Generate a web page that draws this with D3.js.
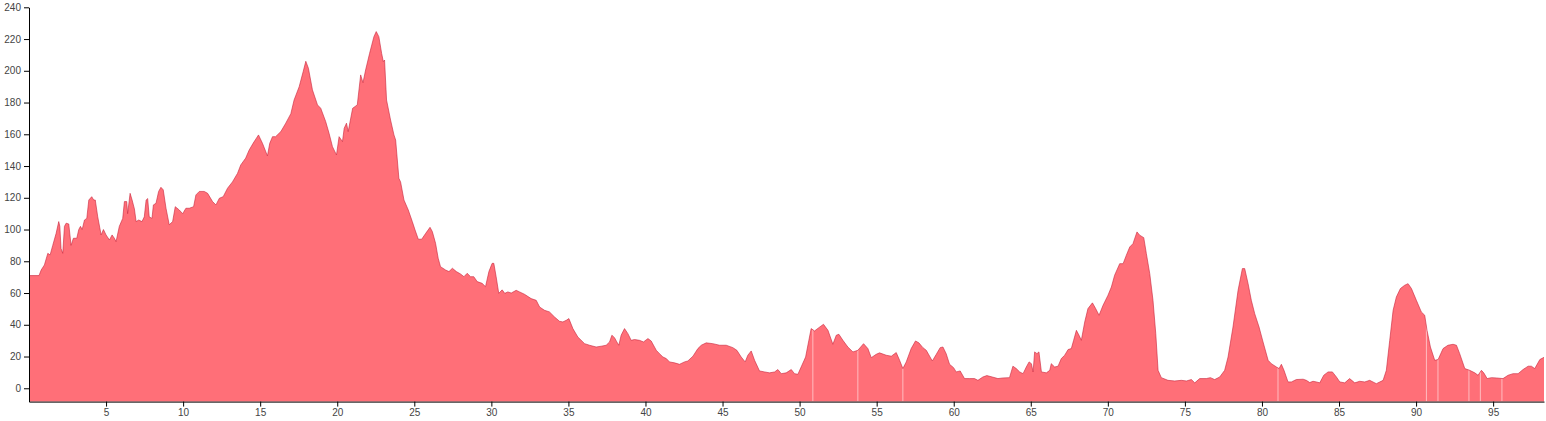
<!DOCTYPE html>
<html><head><meta charset="utf-8">
<script src="https://cdn.jsdelivr.net/npm/d3@7"></script>
<style>body{margin:0;background:#fff}svg{display:block}text{font-family:"Liberation Sans",Arial,sans-serif}</style>
</head><body>
<svg id="c" width="1546" height="421"></svg>
<script>
const distance = [0,0.65,0.79,1.0,1.22,1.37,1.54,1.76,1.93,2.0,2.08,2.19,2.3,2.41,2.58,2.73,2.88,3.1,3.23,3.34,3.45,3.6,3.75,3.88,4.07,4.2,4.3,4.46,4.68,4.83,5.0,5.22,5.39,5.54,5.65,5.86,6.08,6.19,6.34,6.4,6.56,6.69,6.84,6.95,7.12,7.33,7.48,7.6,7.7,7.8,7.98,8.07,8.24,8.41,8.56,8.71,8.89,9.1,9.32,9.49,9.75,9.97,10.18,10.4,10.68,10.83,11.05,11.37,11.59,11.91,12.13,12.35,12.6,12.88,13.2,13.53,13.74,14.06,14.28,14.54,14.89,15.15,15.47,15.62,15.8,16.0,16.34,16.66,16.99,17.2,17.53,17.79,17.96,18.13,18.39,18.72,18.93,19.25,19.47,19.69,19.95,20.12,20.34,20.45,20.6,20.71,21.0,21.3,21.52,21.67,21.84,22.1,22.38,22.53,22.7,22.88,22.99,23.07,23.2,23.46,23.68,23.79,24.0,24.11,24.33,24.61,24.87,25.05,25.26,25.48,25.74,26.02,26.17,26.38,26.55,26.7,27.03,27.25,27.47,27.73,28.0,28.22,28.43,28.65,28.86,29.08,29.4,29.62,29.84,30.05,30.16,30.31,30.48,30.7,30.87,31.07,31.29,31.61,31.83,32.15,32.58,32.91,33.13,33.45,33.77,34.1,34.42,34.64,34.86,35.03,35.29,35.61,36.05,36.37,36.8,37.13,37.45,37.67,37.82,37.99,38.14,38.27,38.42,38.64,38.86,39.07,39.29,39.61,39.87,40.16,40.37,40.7,40.91,41.13,41.35,41.56,41.89,42.21,42.53,42.75,43.08,43.4,43.62,43.94,44.37,44.81,45.24,45.67,45.93,46.21,46.47,46.64,46.86,47.08,47.4,47.73,48.05,48.38,48.59,48.81,49.13,49.46,49.67,49.89,50.1,50.39,50.6,50.75,50.97,51.25,51.55,51.84,52.16,52.38,52.55,52.81,53.13,53.46,53.78,54.15,54.43,54.65,54.97,55.19,55.62,55.95,56.27,56.49,56.7,56.92,57.24,57.52,57.74,58.0,58.22,58.61,58.87,59.12,59.3,59.51,59.73,59.99,60.16,60.42,60.7,61.03,61.35,61.57,61.89,62.15,62.5,62.87,63.19,63.62,63.84,64.06,64.28,64.5,64.71,64.89,65.04,65.15,65.25,65.4,65.53,65.69,66.01,66.23,66.33,66.55,66.77,66.98,67.2,67.42,67.63,67.78,67.96,68.13,68.28,68.5,68.71,69.0,69.21,69.43,69.69,70.01,70.23,70.44,70.77,70.99,71.2,71.42,71.63,71.89,72.07,72.33,72.5,72.72,72.93,73.11,73.26,73.47,73.9,74.34,74.77,75.1,75.42,75.64,75.96,76.39,76.65,76.93,77.26,77.58,77.8,78.12,78.45,78.73,78.88,79.1,79.31,79.53,79.81,80.07,80.4,80.61,80.94,81.11,81.26,81.43,81.69,81.91,82.23,82.67,82.88,83.1,83.31,83.53,83.75,84.01,84.29,84.57,84.83,85.05,85.37,85.69,86.02,86.34,86.67,86.99,87.42,87.86,88.07,88.29,88.51,88.72,88.98,89.26,89.48,89.7,90.02,90.34,90.56,90.71,90.93,91.21,91.43,91.75,92.07,92.4,92.62,92.83,93.16,93.48,93.81,94.02,94.24,94.39,94.61,94.89,95.21,95.64,95.97,96.29,96.62,96.94,97.27,97.48,97.7,98.03,98.3];
const elevation = [71,71,74.5,77.7,85,84,90,97.6,105,102,88,85,102,104,103.5,90,94.5,94.5,100,102,100,106,107,118.6,120.7,118.6,118.6,108,96.6,100,96.6,93.4,96.6,94.5,92.4,102,107,117.6,117.6,110,122.8,118.6,113,105,106,105,108,118.6,119.5,108,107,115.5,116.5,124,126.6,125,113.4,103,105,114.4,112.3,110,113.4,113.4,114.4,121.8,124,124,122.8,117.6,115.5,119.7,120.7,126,130,135.4,140.7,145,150,154.3,159.6,154.3,146.4,154.3,158.5,158.5,161.7,167,173,181.6,190,199.5,206,201.6,188,178.5,176.4,168,160.6,152.2,147,158.5,155.4,163.8,167,161.7,176.4,178.5,197.4,192.5,200.5,211,221.5,224.7,221.5,211,205.8,206.8,181.6,169,159.6,156.4,132.3,130,118.6,112.3,105,99.7,93.9,93.9,97.6,101.4,98.7,91.3,81.9,76.6,74.5,73.5,75.6,73.5,72,70.3,72.4,70.3,70.3,67.2,66.1,64,73.5,78.7,78.7,70.3,59.8,62,59.8,60.7,60,61.7,60.7,59.2,56.5,55.4,51.2,49.1,48.1,44.9,42.2,41.8,42.8,43.9,37.6,32.3,28.1,27.1,26,26.5,27.1,29.2,33.4,31.9,29.2,27.1,33.4,37.6,34.4,30.2,30.7,30.2,29.2,31.3,29.8,23.9,21.8,19.7,18.7,16.6,16,15.1,16.6,17.2,20.2,25,27.1,28.6,28.1,27.1,27.1,25.6,23.9,19.7,16.6,20.8,23.5,17.6,10.9,10.3,9.7,10.3,11.8,9.2,9.7,11.8,9.2,8.8,13.4,19.7,30.2,37.6,36.1,38.2,40.3,36.5,27.7,33.4,34,30.2,26,22.9,23.9,28.1,25,19.3,21.4,22.3,20.8,20.2,22.5,17.6,12.4,16.6,25,29.8,28.6,25.6,23.9,17.2,21.4,25.6,26,21.8,15.1,13,10.3,10.9,6.1,6.1,6.1,5,7.1,8,7.1,6.1,6.5,6.7,13.9,12.4,10.3,9.2,13.4,16.6,15.5,10.3,22.9,21.8,22.9,10.3,9.7,11.3,15.5,13.4,13.9,18.7,20.8,24.4,25,30.2,36.5,33.4,30.2,41.8,50.2,53.8,50.2,46,52.3,58.6,63.8,71.2,78.5,78.5,83.8,89,91.1,98.5,96.4,94.9,84.8,72.2,55.4,34.4,11.3,6.7,5,4.6,5,4.6,5.5,3.4,6.1,6.1,6.7,5.5,7.1,11.3,19.7,38.6,61.7,75.4,75.4,65.9,55.4,47,38.6,29.2,17.6,15.5,13.4,12.4,15.1,11.3,4,4,5.5,5.7,5,3.6,4.4,4,3.4,8.2,10.3,10.3,7.1,4,3.4,6.1,3.4,4.4,4,5,2.9,5,11.3,30.2,49.1,57.5,62.8,64.9,65.9,62.8,55.4,48.1,46,36.5,26,17.6,18.1,25,27.1,27.7,27.1,21.8,12.4,11.3,9.7,8.2,11.3,9.7,6.1,6.7,6.5,6.1,8.2,9.2,9.2,11.8,13.9,13.9,12.4,18.1,19.5];
const xTickValues = [5,10,15,20,25,30,35,40,45,50,55,60,65,70,75,80,85,90,95];
const yTickValues = [0,20,40,60,80,100,120,140,160,180,200,220,240];
const seamPositions = [50.86,53.78,56.7,81.04,90.67,91.42,93.43,94.17,95.57];

const data = distance.map((d,i)=>({x:d,y:elevation[i]}));
const svg = d3.select("#c");
const yMin = -8.4;
const x = d3.scaleLinear().domain([0,98.3]).range([29,1544]);
const y = d3.scaleLinear().domain([yMin,240]).range([401.6,7.3]);

const area = d3.area().x(d=>x(d.x)).y0(y(yMin)).y1(d=>y(d.y));
const line = d3.line().x(d=>x(d.x)).y(d=>y(d.y));

svg.append("clipPath").attr("id","ac").append("path").attr("d",area(data));
svg.append("path").attr("d",area(data)).attr("fill","#ff6f78");
svg.append("g").attr("clip-path","url(#ac)").selectAll("line").data(seamPositions).join("line")
  .attr("x1",d=>x(d)).attr("x2",d=>x(d)).attr("y1",y(yMin)).attr("y2",0)
  .attr("stroke","#ffd0d3").attr("stroke-width",1).attr("opacity",0.8);
svg.append("path").attr("d",line(data)).attr("fill","none").attr("stroke","#c8243a").attr("stroke-width",0.6);

const ax = svg.append("g").attr("transform",`translate(0,${y(yMin)})`)
  .call(d3.axisBottom(x).tickValues(xTickValues).tickSize(5).tickPadding(2).tickSizeOuter(0));
const ay = svg.append("g").attr("transform",`translate(${x(0)},0)`)
  .call(d3.axisLeft(y).tickValues(yTickValues).tickSize(5).tickPadding(3).tickSizeOuter(0));
[ax,ay].forEach(g=>{
  g.selectAll("text").attr("font-size",10).attr("fill","#444").attr("font-family","'Liberation Sans',Arial,sans-serif");
  g.select(".domain").attr("stroke","#000");
  g.selectAll(".tick line").attr("stroke","#000");
});
</script>
</body></html>
